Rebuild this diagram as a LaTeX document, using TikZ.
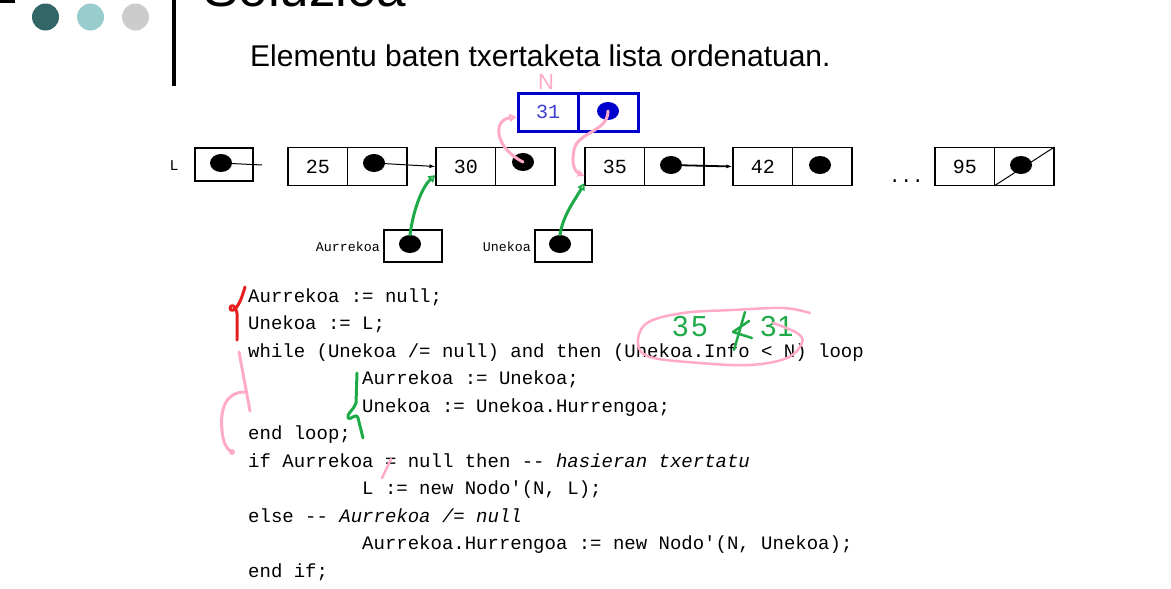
\documentclass[tikz,border=0pt]{standalone}
\usepackage{fontspec}
\setmainfont{Liberation Sans}
\setmonofont{Liberation Mono}
\usetikzlibrary{arrows.meta,shapes.geometric}

\definecolor{tealdark}{RGB}{51,102,102}
\definecolor{teallight}{RGB}{153,204,204}
\definecolor{lightgrey}{RGB}{204,204,204}
\definecolor{inkblue}{RGB}{0,0,204}
\definecolor{numblue}{RGB}{60,60,210}
\definecolor{penpink}{RGB}{255,170,200}
\definecolor{pengreen}{RGB}{30,170,70}
\definecolor{penred}{RGB}{230,30,30}

\tikzset{
  cell/.style={draw, line width=1.1pt, minimum width=59.5pt, minimum height=38pt,
    inner sep=0pt, font=\fontsize{20}{20}\ttfamily},
  bcell/.style={cell, draw=inkblue, line width=3pt, minimum width=60pt},
  ptr/.style={ellipse, fill=black, minimum width=22pt, minimum height=18pt, inner sep=0pt},
  codeln/.style={anchor=base west, inner sep=0pt, font=\fontsize{19}{19}\ttfamily},
  lbl/.style={inner sep=0pt, font=\fontsize{13.3}{13.3}\ttfamily},
  link/.style={line width=1pt, -{Latex[length=6pt,width=4pt]}},
  greenpen/.style={draw=pengreen, line width=3pt, line cap=round, line join=round},
  pinkpen/.style={draw=penpink, line width=3pt, line cap=round, line join=round},
  redpen/.style={draw=penred, line width=3pt, line cap=round, line join=round},
  handnum/.style={text=pengreen, inner sep=0pt, font=\fontsize{29}{29}\selectfont},
}

% one list element: info cell (#1i) and pointer cell (#1p), left edge at #2
\newcommand\listelem[3]{%
  \node[cell] (#1i) at (#2+29.75,166.5) {#3};
  \node[cell] (#1p) at (#2+89.25,166.5) {};
}

\begin{document}
\begin{tikzpicture}[x=1pt,y=-1pt]
\useasboundingbox (0,0) rectangle (1171,589);
\clip (0,0) rectangle (1171,589);

% slide decoration
\fill[black] (0,0) rectangle (15,2.5);
\fill[tealdark] (45.5,17) circle (13.5);
\fill[teallight] (90.5,17) circle (13.5);
\fill[lightgrey] (135.5,17) circle (13.5);
\fill[black] (172,0) rectangle (176,86);

\node[anchor=base west, inner sep=0pt, font=\fontsize{53}{53}\selectfont] (title) at (203,6) {Soluzioa};
\node[anchor=base west, inner sep=0pt, font=\fontsize{30}{30}\selectfont] (subtitle) at (250,66) {Elementu baten txertaketa lista ordenatuan.};

% list head
\node[lbl, font=\fontsize{15}{15}\ttfamily] (Llab) at (174,166) {L};
\node[cell, minimum width=58pt, minimum height=33pt] (Lbox) at (224,164.5) {};
\node[ptr] (dL) at (221,163) {};
\coordinate (Lend) at (262,165);
\draw[line width=1pt] (dL.center) -- (Lend);

% list elements
\listelem{n25}{288}{25}
\listelem{n30}{436}{30}
\listelem{n35}{585}{35}
\listelem{n42}{733}{42}
\listelem{n95}{935}{95}

\node[ptr] (d25) at (374,163) {};
\node[ptr] (d30) at (523,162) {};
\node[ptr] (d35) at (671,165) {};
\node[ptr] (d42) at (820,165) {};
\node[ptr] (d95) at (1021,165) {};

\draw[link] (d25.center) -- (n30i.west);
\draw[link, line width=1.8pt] (d35.center) -- (n42i.west);
\draw[line width=1pt] (n95p.south west) -- (n95p.north east);

\node[anchor=base west, inner sep=0pt, font=\fontsize{19}{19}\ttfamily] (dots) at (889,182) {...};

% new element
\node[bcell] (n31i) at (548,112) {\color{numblue}31};
\node[bcell] (n31p) at (608,112) {};
\node[ptr, fill=inkblue] (d31) at (608,111) {};

% cursors
\node[cell, minimum width=58pt, minimum height=32pt] (Abox) at (413,246) {};
\node[ptr] (dA) at (410,244) {};
\node[lbl, anchor=east] (Alab) at (380,247) {Aurrekoa};
\node[cell, minimum width=57pt, minimum height=32pt] (Ubox) at (563.5,246) {};
\node[ptr] (dU) at (560,244) {};
\node[lbl, anchor=east] (Ulab) at (531,247) {Unekoa};

% hand-drawn pointer moves
\draw[greenpen, -{Triangle[open,length=7pt,width=8pt]}] (dA.north) .. controls (414,205) and (424,185) .. ([yshift=11pt]n30i.south west);
\draw[greenpen, -{Triangle[open,length=7pt,width=8pt]}] (dU.north) .. controls (563,215) and (575,200) .. ([yshift=3pt]n35i.south west);
\draw[pinkpen, -{Triangle[open,length=7pt,width=8pt]}] (d30.center) .. controls (495,148) and (492,120) .. ([yshift=-5pt]n31i.west);
\draw[pinkpen, -{Stealth[length=8pt,width=8pt]}] (d31.center) .. controls (608,132) and (577,132) .. (574,150) .. controls (571,165) and (575,172) .. ([yshift=-29pt]n35i.north west);
\node[text=penpink, inner sep=0pt, font=\fontsize{22}{22}\selectfont] (Nmark) at (546,82) {N};

% code
\node[codeln] (c1) at (248,302) {Aurrekoa := null;};
\node[codeln] (c2) at (248,329.5) {Unekoa := L;};
\node[codeln] (c3) at (248,357) {while (Unekoa /= null) and then (Unekoa.Info < N) loop};
\node[codeln] (c4) at (362,384.5) {Aurrekoa := Unekoa;};
\node[codeln] (c5) at (362,412) {Unekoa := Unekoa.Hurrengoa;};
\node[codeln] (c6) at (248,439.5) {end loop;};
\node[codeln] (c7) at (248,467) {if Aurrekoa = null then -{}- \textit{hasieran txertatu}};
\node[codeln] (c8) at (362,494.5) {L := new Nodo'(N, L);};
\node[codeln] (c9) at (248,522) {else -{}- \textit{Aurrekoa /= null}};
\node[codeln] (c10) at (362,549.5) {Aurrekoa.Hurrengoa := new Nodo'(N, Unekoa);};
\node[codeln] (c11) at (248,577) {end if;};

% annotations on the code
\draw[redpen] (245,287) .. controls (242,297) and (240,303) .. (236,308)
  .. controls (232,313) and (228,309) .. (231,306) .. controls (234,304) and (238,310) .. (237,318) -- (237,340);
\draw[pinkpen] (239,352) -- (250,411);
\draw[pinkpen] (245,392) .. controls (225,392) and (220,410) .. (222,430)
  .. controls (223,445) and (228,450) .. (232,452);
\fill[penpink] (232,452) circle (3pt);
\draw[greenpen] (357,373) -- (356,403) .. controls (354,410) and (346,414) .. (348,418)
  .. controls (350,421) and (356,412) .. (358,418) -- (363,438);
\draw[pinkpen, line width=2.5pt] (382,478) -- (391,459);

% condition check
\node[handnum] (n35v) at (690,327) {3\kern3pt5};
\node[handnum] (n31v) at (777,327) {3\kern1pt1};
\draw[greenpen, line width=2.5pt] (749,321) -- (733,332) -- (752,338);
\draw[greenpen, line width=2.5pt] (745,312) -- (734,350);
\draw[pinkpen, line width=2.5pt] plot[smooth, tension=0.6] coordinates {
  (810,313) (783,308) (733,310) (683,313) (647,323) (638,343) (650,357)
  (700,363) (750,365) (787,358) (802,343) (797,333) (773,323)};
\end{tikzpicture}
\end{document}
